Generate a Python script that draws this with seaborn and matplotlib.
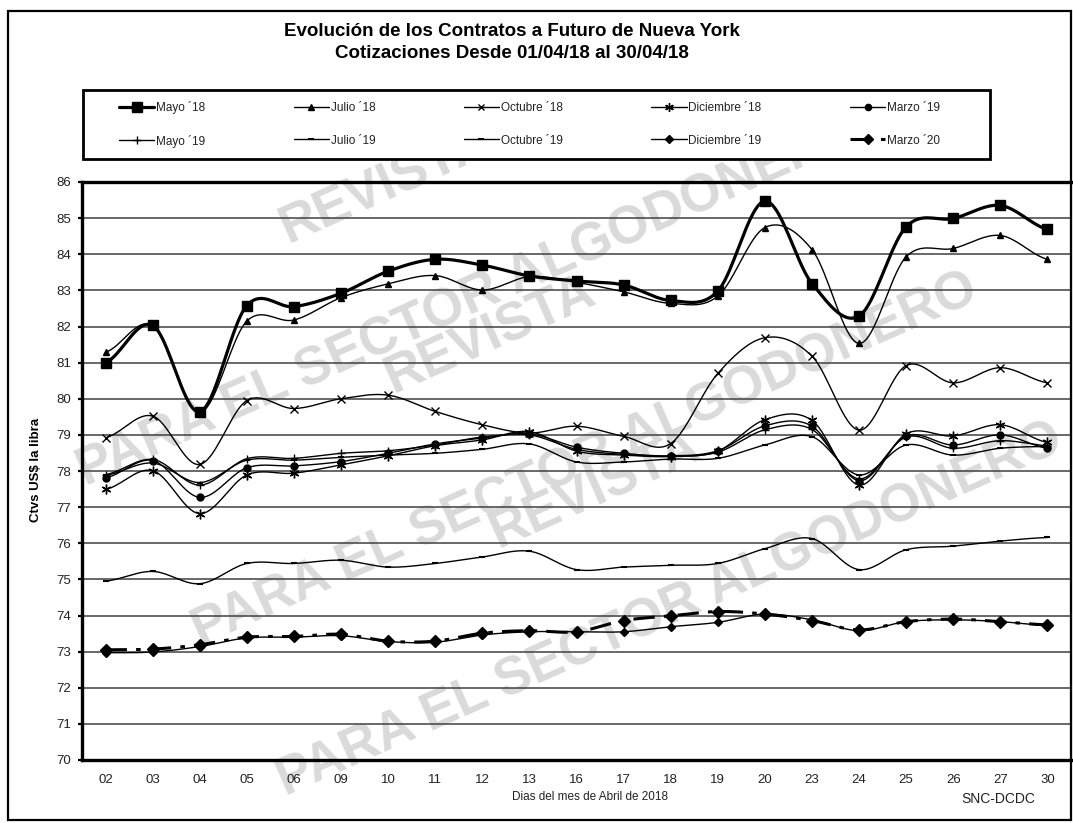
import numpy as np
import pandas as pd
import matplotlib
matplotlib.use("Agg")
import matplotlib.pyplot as plt
import seaborn as sns
from matplotlib.lines import Line2D
from matplotlib.patches import Rectangle

# ---------------- data ----------------
days = ["02", "03", "04", "05", "06", "09", "10", "11", "12", "13", "16",
        "17", "18", "19", "20", "23", "24", "25", "26", "27", "30"]

mayo_18 = [81.00, 82.03, 79.64, 82.58, 82.55, 82.92, 83.53, 83.86, 83.70, 83.40, 83.26,
           83.15, 82.72, 82.98, 85.47, 83.19, 82.29, 84.76, 84.99, 85.35, 84.69]
julio_18 = [81.29, 82.02, 79.62, 82.15, 82.18, 82.80, 83.18, 83.41, 83.01, 83.38, 83.22,
            82.96, 82.64, 82.84, 84.74, 84.13, 81.53, 83.93, 84.16, 84.52, 83.86]
octubre_18 = [78.92, 79.52, 78.18, 79.95, 79.73, 80.00, 80.10, 79.65, 79.28, 79.05, 79.24,
              78.96, 78.76, 80.70, 81.69, 81.18, 79.13, 80.92, 80.44, 80.86, 80.44]
diciembre_18 = [77.49, 78.01, 76.82, 77.89, 77.94, 78.17, 78.42, 78.70, 78.86, 79.09, 78.55,
                78.44, 78.40, 78.55, 79.42, 79.40, 77.61, 79.03, 78.97, 79.28, 78.79]
marzo_19 = [77.81, 78.29, 77.27, 78.09, 78.14, 78.26, 78.49, 78.75, 78.91, 79.03, 78.66,
            78.49, 78.42, 78.56, 79.25, 79.24, 77.73, 78.97, 78.72, 79.00, 78.63]
mayo_19 = [77.90, 78.32, 77.61, 78.34, 78.35, 78.49, 78.56, 78.72, 78.94, 79.00, 78.60,
           78.46, 78.41, 78.52, 79.14, 79.15, 77.78, 78.94, 78.63, 78.84, 78.70]
julio_19 = [77.88, 78.22, 77.68, 78.30, 78.30, 78.38, 78.44, 78.49, 78.60, 78.75, 78.25,
            78.25, 78.33, 78.35, 78.72, 78.95, 77.89, 78.72, 78.44, 78.63, 78.68]
octubre_19 = [74.95, 75.22, 74.88, 75.44, 75.44, 75.53, 75.34, 75.44, 75.62, 75.78, 75.27,
              75.34, 75.39, 75.44, 75.85, 76.13, 75.27, 75.82, 75.92, 76.06, 76.16]
diciembre_19 = [72.97, 72.99, 73.14, 73.38, 73.40, 73.44, 73.28, 73.26, 73.46, 73.55, 73.55,
                73.55, 73.69, 73.81, 74.04, 73.88, 73.58, 73.83, 73.88, 73.83, 73.72]
marzo_20 = [73.05, 73.07, 73.19, 73.40, 73.42, 73.48, 73.29, 73.29, 73.51, 73.58, 73.55,
            73.86, 73.99, 74.11, 74.04, 73.86, 73.60, 73.83, 73.90, 73.83, 73.74]

series_names = ["Mayo ´18", "Julio ´18", "Octubre ´18", "Diciembre ´18", "Marzo ´19",
                "Mayo ´19", "Julio ´19", "Octubre ´19", "Diciembre ´19", "Marzo ´20"]
series_values = [mayo_18, julio_18, octubre_18, diciembre_18, marzo_19,
                 mayo_19, julio_19, octubre_19, diciembre_19, marzo_20]

y_ticks = list(range(70, 87))
title_1 = "Evolución de los Contratos a Futuro de Nueva York"
title_2 = "Cotizaciones Desde 01/04/18 al 30/04/18"
x_label = "Dias del mes de Abril de 2018"
y_label = r"Ctvs US\$ la libra"
source = "SNC-DCDC"
watermark_top = "REVISTA"
watermark_bottom = "PARA EL SECTOR ALGODONERO"

# ---------------- styles ----------------
DASHDOT = (0, (7, 3, 1.5, 3))
styles = {
    "Mayo ´18":      dict(lw=2.3, ls="-", marker="s", ms=7.5, mew=1.0, z=10),
    "Julio ´18":     dict(lw=1.0, ls="-", marker="^", ms=5.0, mew=1.0, z=9),
    "Octubre ´18":   dict(lw=1.0, ls="-", marker="x", ms=5.5, mew=1.0, z=8),
    "Diciembre ´18": dict(lw=1.0, ls="-", marker=(6, 2, 0), ms=7.0, mew=1.0, z=7),
    "Marzo ´19":     dict(lw=1.0, ls="-", marker="o", ms=5.0, mew=1.0, z=7),
    "Mayo ´19":      dict(lw=1.0, ls="-", marker="+", ms=6.0, mew=1.0, z=6),
    "Julio ´19":     dict(lw=1.0, ls="-", marker="_", ms=5.0, mew=1.5, z=6),
    "Octubre ´19":   dict(lw=1.0, ls="-", marker="_", ms=5.0, mew=1.5, z=6),
    "Diciembre ´19": dict(lw=1.0, ls="-", marker="D", ms=4.0, mew=1.0, z=6),
    "Marzo ´20":     dict(lw=2.2, ls=DASHDOT, marker="D", ms=6.0, mew=1.0, z=9),
}

sns.set_theme(style="white")
plt.rcParams["font.family"] = ["Liberation Sans", "DejaVu Sans"]

W, H = 1073, 823
fig = plt.figure(figsize=(W / 100, H / 100), dpi=100)
fig.patch.set_facecolor("white")


def fx(px):
    return px / W


def fy(py):
    return 1 - py / H


ax = fig.add_axes([fx(82), fy(760), fx(1071) - fx(82), fy(182) - fy(760)])
ax.set_facecolor("none")


def smooth(vals, n=20):
    """Excel-like smoothing (uniform Catmull-Rom) for display of the line."""
    y = np.asarray(vals, dtype=float)
    p = np.concatenate([[y[0]], y, [y[-1]]])
    xs, ys = [], []
    t = np.linspace(0, 1, n, endpoint=False)
    for i in range(len(y) - 1):
        p0, p1, p2, p3 = p[i], p[i + 1], p[i + 2], p[i + 3]
        seg = 0.5 * (2 * p1 + (-p0 + p2) * t + (2 * p0 - 5 * p1 + 4 * p2 - p3) * t ** 2
                     + (-p0 + 3 * p1 - 3 * p2 + p3) * t ** 3)
        xs.append(i + t)
        ys.append(seg)
    xs.append([len(y) - 1])
    ys.append([y[-1]])
    return np.concatenate(xs), np.concatenate(ys)


xpos = np.arange(len(days))
handles = {}
for name, vals in zip(series_names, series_values):
    st = styles[name]
    sx, sy = smooth(vals)
    before = len(ax.lines)
    sns.lineplot(x=sx, y=sy, ax=ax, color="black", linewidth=st["lw"],
                 sort=False, estimator=None, legend=False)
    ln = ax.lines[before]
    ln.set_linestyle(st["ls"])
    ln.set_zorder(st["z"])
    ax.plot(xpos, vals, linestyle="none", marker=st["marker"], markersize=st["ms"],
            markeredgewidth=st["mew"], color="black", markerfacecolor="black",
            zorder=st["z"] + 0.5)
    handles[name] = Line2D([], [], color="black", lw=st["lw"], ls=st["ls"],
                           marker=st["marker"], markersize=st["ms"] * 0.9,
                           markeredgewidth=st["mew"], markerfacecolor="black")

# axes formatting
ax.set_xlim(-0.5, len(days) - 0.5)
ax.set_ylim(70, 86)
ax.set_yticks(y_ticks)
ax.set_yticklabels([str(v) for v in y_ticks])
ax.set_xticks(xpos)
ax.set_xticklabels(days)
ax.set_xticks(np.arange(-0.5, len(days)), minor=True)
ax.tick_params(axis="x", which="major", length=0, pad=10, labelsize=9.5, colors="#222222")
ax.tick_params(axis="x", which="minor", length=4, width=1.6, color="black", direction="out")
ax.tick_params(axis="y", which="major", length=3, width=1.6, pad=5, labelsize=9.5,
               colors="black", labelcolor="#222222", direction="out", left=True)
ax.grid(False)
for v in y_ticks[1:-1]:
    ax.axhline(v, color="#404040", lw=1.1, zorder=1)
for side in ["left", "bottom", "top"]:
    ax.spines[side].set_visible(True)
    ax.spines[side].set_color("black")
    ax.spines[side].set_linewidth(2.4)
ax.spines["right"].set_visible(True)
ax.spines["right"].set_color("black")
ax.spines["right"].set_linewidth(1.5)
ax.set_xlabel("")
ax.set_ylabel("")

# titles and labels
fig.text(fx(512), fy(31), title_1, ha="center", va="center", fontsize=13.5,
         fontweight="bold", color="black")
fig.text(fx(512), fy(54), title_2, ha="center", va="center", fontsize=13.5,
         fontweight="bold", color="black")
fig.text(fx(590), fy(797), x_label, ha="center", va="center", fontsize=8.5, color="#222222")
fig.text(fx(998), fy(799), source, ha="center", va="center", fontsize=10, color="#222222")
fig.text(fx(36), fy(470), y_label, ha="center", va="center", rotation=90,
         fontsize=9.5, fontweight="bold", color="black")

# watermark
wm_color = "#dadada"
for (cx, cy) in [(385, 185), (490, 335), (595, 490)]:
    fig.text(fx(cx), fy(cy), watermark_top, ha="center", va="center", rotation=24,
             fontsize=38, fontweight="bold", color=wm_color, zorder=-1)
for (cx, cy) in [(470, 300), (585, 460), (670, 610)]:
    fig.text(fx(cx), fy(cy), watermark_bottom, ha="center", va="center",
             rotation=24, fontsize=38, fontweight="bold", color=wm_color, zorder=-1)

# legend box
fig.patches.append(Rectangle((fx(83), fy(159)), fx(990) - fx(83), fy(90) - fy(159),
                             transform=fig.transFigure, facecolor="white",
                             edgecolor="black", lw=2.0, zorder=2))
order = [0, 5, 1, 6, 2, 7, 3, 8, 4, 9]
leg_handles = [handles[series_names[i]] for i in order]
leg_labels = [series_names[i] for i in order]
leg = fig.legend(leg_handles, leg_labels, loc="center",
                 bbox_to_anchor=(fx(119), fy(159), fx(940) - fx(119), fy(90) - fy(159)),
                 mode="expand", ncol=5, frameon=False, fontsize=8.5,
                 handlelength=3.0, handletextpad=0.15, labelspacing=1.7,
                 borderaxespad=0, borderpad=0, columnspacing=1.0)
leg.set_zorder(3)
for t in leg.get_texts():
    t.set_color("#222222")

# outer frame
fig.patches.append(Rectangle((fx(8), fy(820)), fx(1071) - fx(8), fy(11) - fy(820),
                             transform=fig.transFigure, facecolor="none",
                             edgecolor="black", lw=1.6, zorder=5))

fig.savefig("out.png", dpi=100)
